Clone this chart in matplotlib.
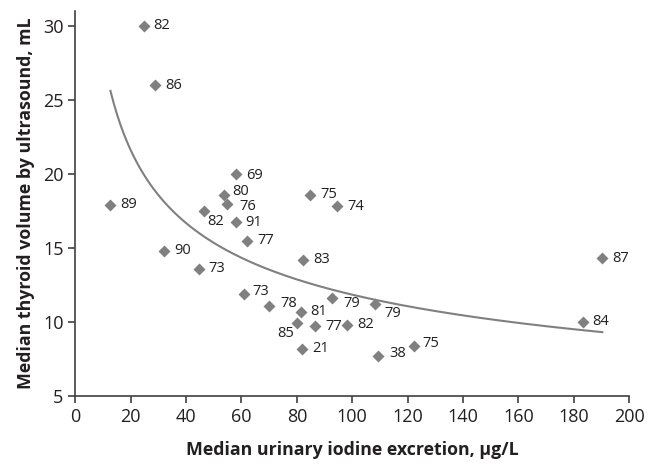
import numpy as np
import matplotlib.pyplot as plt

plt.rcParams['font.family'] = ['Open Sans', 'DejaVu Sans']

# median urinary iodine (ug/L), median thyroid volume (mL), point label
iodine = [24.7, 28.8, 58.0, 53.7, 54.9, 46.6, 58.0, 62.1, 32.1, 44.7,
          84.9, 94.6, 82.3, 60.9, 69.9, 81.5, 92.8, 108.2, 80.0, 86.7,
          98.2, 82.0, 109.4, 122.3, 190.3, 183.2, 12.7]
volume = [30.0, 26.0, 20.0, 18.6, 18.0, 17.5, 16.75, 15.5, 14.8, 13.6,
          18.6, 17.8, 14.2, 11.9, 11.1, 10.7, 11.6, 11.2, 9.9, 9.7,
          9.8, 8.2, 7.7, 8.4, 14.3, 10.0, 17.9]
labels = ['82', '86', '69', '80', '76', '82', '91', '77', '90', '73',
          '75', '74', '83', '73', '78', '81', '79', '79', '85', '77',
          '82', '21', '38', '75', '87', '84', '89']

# label offsets in points (default right of marker)
offsets = {3: (6, 2.0), 4: (9, -2.0), 5: (2, -7.5), 16: (8, -3.5), 17: (7, -6.5),
           18: (-2, -7.5), 13: (6, 1.5), 14: (8, 1.5), 22: (8, 1.5), 23: (6, 1.5),
           2: (7, -1.5)}

ink = '#231f20'
grey = '#808080'

fig = plt.figure(figsize=(6.5, 4.65), dpi=100)
ax = fig.add_axes([0.1158, 0.1484, 0.8522, 0.8279])

# power trendline (least squares in log-log space)
b, lna = np.polyfit(np.log(iodine), np.log(volume), 1)
xs = np.linspace(min(iodine), max(iodine), 300)
ax.plot(xs, np.exp(lna) * xs ** b, color=grey, lw=1.5, zorder=2)

ax.plot(iodine, volume, 'D', color=grey, markersize=6.2, mec='none', zorder=3)

for i, (x, y, t) in enumerate(zip(iodine, volume, labels)):
    dx, dy = offsets.get(i, (7, 0))
    ha = 'right' if dx < 0 else 'left'
    ax.annotate(t, (x, y), xytext=(dx, dy), textcoords='offset points',
                ha=ha, va='center', fontsize=10.5, color=ink)

ax.set_xlim(0, 200)
ax.set_ylim(5, 31)
ax.set_xticks(np.arange(0, 201, 20))
ax.set_yticks(np.arange(5, 31, 5))
for s in ['top', 'right']:
    ax.spines[s].set_visible(False)
for s in ['left', 'bottom']:
    ax.spines[s].set_color('#404040')
    ax.spines[s].set_linewidth(1.2)
ax.tick_params(direction='out', length=5, width=1.2, color='#404040',
               labelsize=13, labelcolor=ink)

ax.set_xlabel('Median urinary iodine excretion, µg/L', fontsize=12.8,
              fontweight='bold', color=ink, labelpad=11)
ax.set_ylabel('Median thyroid volume by ultrasound, mL', fontsize=12.8,
              fontweight='bold', color=ink, labelpad=6)

fig.savefig('out.png', dpi=100)
